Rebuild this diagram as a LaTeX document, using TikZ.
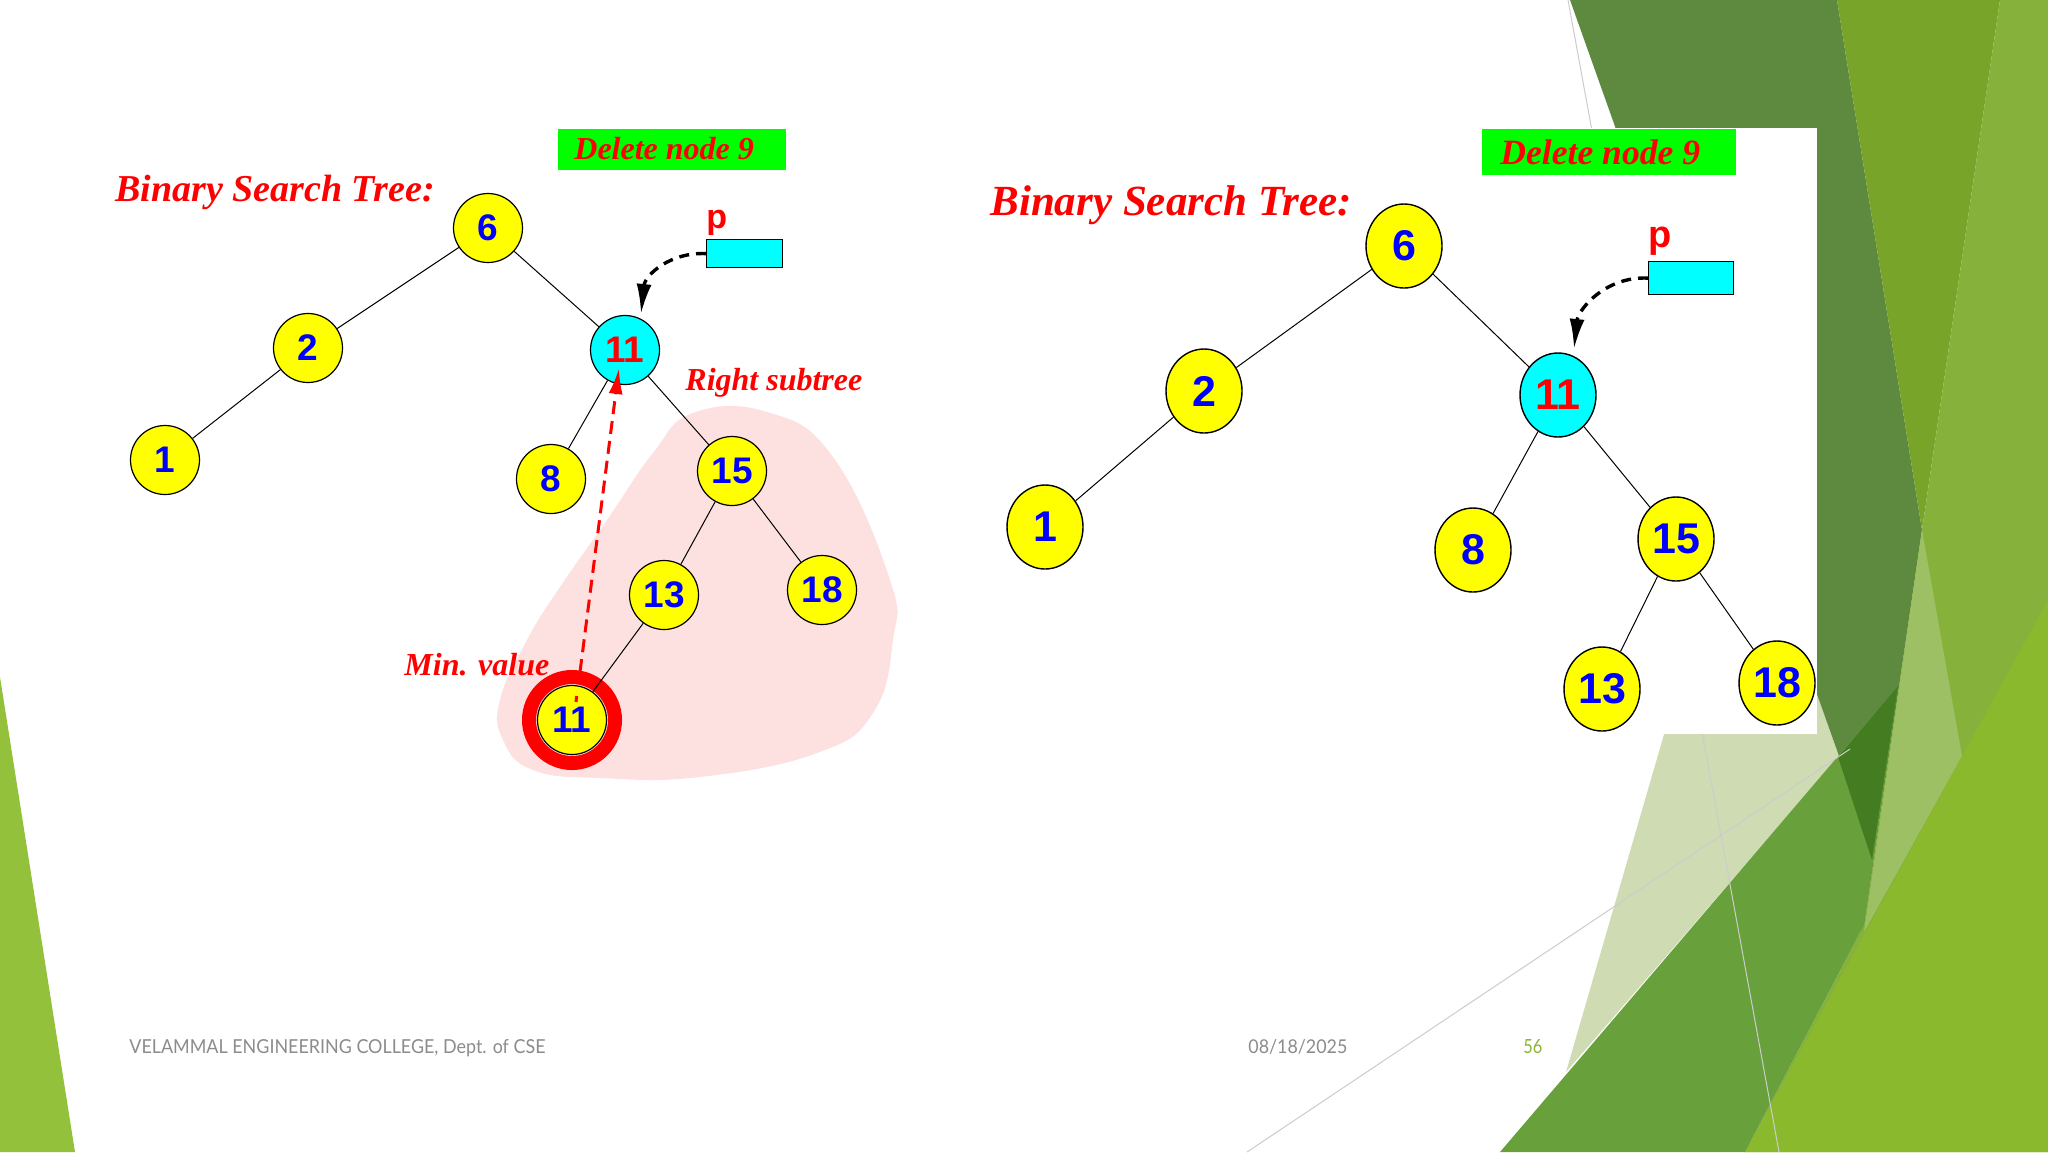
\documentclass[tikz,border=0pt]{standalone}
\usepackage{fontspec}
\setmainfont{Liberation Serif}
\newfontfamily\sansf{Liberation Sans}
\newfontfamily\footf{Lato}
\usetikzlibrary{shapes.geometric,arrows.meta}
\definecolor{dkg}{HTML}{5E8A3F}
\definecolor{mdg}{HTML}{78A42A}
\definecolor{ltg}{HTML}{86B23B}
\definecolor{strip}{HTML}{9CC063}
\definecolor{brg}{HTML}{8AB92E}
\definecolor{bandg}{HTML}{68A03C}
\definecolor{dkr}{HTML}{447C22}
\definecolor{pale}{HTML}{CFDBB2}
\definecolor{leftg}{HTML}{93C13C}
\definecolor{pinkb}{HTML}{FDE1E1}
\definecolor{footgray}{HTML}{8C8C8C}
\definecolor{numg}{HTML}{8DB33A}
\definecolor{bgreen}{HTML}{00FF00}
\definecolor{cyanb}{HTML}{00FFFF}
\definecolor{ylw}{HTML}{FFFF00}
\definecolor{blu}{HTML}{0000FF}
\definecolor{rd}{HTML}{FF0000}
\begin{document}
\begin{tikzpicture}[x=0.5pt,y=-0.5pt,
  lnode/.style={circle,draw=black,line width=0.6pt,fill=ylw,inner sep=0pt,minimum size=34.5pt,
    font=\sansf\bfseries\fontsize{18.5}{18.5}\selectfont,text=blu},
  rnode/.style={ellipse,draw=black,line width=0.7pt,fill=ylw,inner sep=0pt,minimum width=38pt,minimum height=42pt,
    font=\sansf\bfseries\fontsize{21.5}{21.5}\selectfont,text=blu},
  tedge/.style={draw=black,line width=0.5pt},
  ttl/.style={font=\bfseries\itshape\fontsize{#1}{#1}\selectfont,text=rd,anchor=base west,inner sep=0pt},
  gbox/.style={fill=bgreen,inner sep=0pt,anchor=north west},
  pbox/.style={draw=black,line width=0.6pt,fill=cyanb,inner sep=0pt,anchor=north west},
  plab/.style={font=\sansf\bfseries\fontsize{#1}{#1}\selectfont,text=rd,anchor=base west,inner sep=0pt},
  ptrarrow/.style={draw=black,line width=1.7pt,dash pattern=on 5pt off 3.5pt,-{Latex[length=15pt,width=7.5pt]}},
  redarrow/.style={draw=rd,line width=1.5pt,dash pattern=on 6.5pt off 3.5pt,-{Latex[length=13pt,width=7pt]}},
  foot/.style={font=\footf\fontsize{9}{9}\selectfont,anchor=base west,inner sep=0pt}
]
\useasboundingbox (0,0) rectangle (2048,1152);
\fill[white] (0,0) rectangle (2048,1152);
% background decoration
\fill[leftg] (0,677) -- (75,1152) -- (0,1152) -- cycle;
\fill[pale] (1703,600) -- (1784,600) -- (1839,756) -- (1566,1072) -- cycle;
\fill[dkg] (1570,0) -- (1837,0) -- (1922,530) -- (1862,940) -- (1839,756) -- cycle;
\fill[mdg] (1837,0) -- (2000,0) -- (1922,530) -- cycle;
\fill[ltg] (2000,0) -- (2048,0) -- (2048,1152) -- (1745,1152) -- (1864,925) -- (1922,530) -- cycle;
\fill[strip] (1922,530) -- (1962,756) -- (1864,932) -- cycle;
\fill[brg] (1745,1152) -- (2048,600) -- (2048,1152) -- cycle;
\fill[bandg] (1500,1152) -- (1898,686) -- (1864,925) -- (1745,1152) -- cycle;
\fill[dkr] (1838,757) -- (1898,686) -- (1872,860) -- cycle;
\draw[gray!40,line width=0.5pt] (1568,0) -- (1779,1152);
\draw[gray!40,line width=0.5pt] (1247,1152) -- (1850,749);
% white panel of the right picture
\fill[white] (980,128) rectangle (1817,734);

% ---------------- left picture ----------------
\node[gbox,minimum width=114pt,minimum height=20.5pt] (gl) at (558,129) {};
\node[ttl=16] (dl) at (574,159) {Delete node 9};
\node[ttl=19] (tl) at (115,201) {Binary Search Tree:};
\fill[pinkb] plot[smooth cycle,tension=0.75] coordinates {(693,413) (767,412) (833,457) (890,580) (893,640) (873,713) (817,753) (700,777) (600,778) (533,770) (503,740) (500,700) (527,640) (560,587) (607,520) (653,453)};
\node[ttl=16] (rs) at (685,390) {Right subtree};
\node[ttl=16] (mv) at (404,675) {Min. value};
\node[plab=17] (pl) at (706,228) {p};
\node[pbox,minimum width=38pt,minimum height=14pt] (bl) at (706,239) {};

\node[lnode] (l6) at (488,228) {6};
\node[lnode] (l2) at (308,348) {2};
\node[lnode] (l1) at (165,460) {1};
\node[lnode,fill=cyanb,text=rd] (l11) at (625,350) {11};
\node[lnode] (l8) at (551,479) {8};
\node[lnode] (l15) at (732,471) {15};
\node[lnode] (l13) at (664,595) {13};
\node[lnode] (l18) at (822,590) {18};
\node[circle,draw=rd,line width=7pt,minimum size=43pt,inner sep=0pt] (ring) at (572,720) {};
\node[lnode] (lm) at (572,720) {11};
\coordinate (mstart) at (576,702);
\draw[rd,line width=1.5pt] (mstart) -- ++(0.6,-6);
\draw[tedge] (l6) -- (l2);
\draw[tedge] (l6) -- (l11);
\draw[tedge] (l2) -- (l1);
\draw[tedge] (l11) -- (l8);
\draw[tedge] (l11) -- (l15);
\draw[tedge] (l15) -- (l13);
\draw[tedge] (l15) -- (l18);
\draw[tedge] (l13) -- (lm);
\coordinate (mtip) at (619,368);
\coordinate (rtop) at (580,672);
\draw[redarrow] (rtop) -- (mtip);
\coordinate (ltip) at (641,314);
\draw[ptrarrow] (bl.west) .. controls (670,252) and (645,275) .. (ltip);

% ---------------- right picture ----------------
\node[gbox,minimum width=127pt,minimum height=23pt] (gr) at (1482,129) {};
\node[ttl=17.8] (dr) at (1500,164) {Delete node 9};
\node[ttl=21.5] (tr) at (990,215) {Binary Search Tree:};
\node[plab=19] (pr) at (1648,247) {p};
\node[pbox,minimum width=42.5pt,minimum height=16.5pt] (br) at (1648,261) {};

\node[rnode] (r6) at (1404,246) {6};
\node[rnode] (r2) at (1204,391) {2};
\node[rnode] (r1) at (1045,527) {1};
\node[rnode,fill=cyanb,text=rd] (r11) at (1558,395) {11};
\node[rnode] (r8) at (1473,550) {8};
\node[rnode] (r15) at (1676,539) {15};
\node[rnode] (r13) at (1602,689) {13};
\node[rnode] (r18) at (1777,683) {18};
\draw[tedge] (r6) -- (r2);
\draw[tedge] (r6) -- (r11);
\draw[tedge] (r2) -- (r1);
\draw[tedge] (r11) -- (r8);
\draw[tedge] (r11) -- (r15);
\draw[tedge] (r15) -- (r13);
\draw[tedge] (r15) -- (r18);
\coordinate (rtip) at (1574,349);
\draw[ptrarrow] (br.west) .. controls (1605,276) and (1578,310) .. (rtip);

% ---------------- footer ----------------
\node[foot,text=footgray] (f1) at (129,1053) {\resizebox{208pt}{7pt}{VELAMMAL ENGINEERING COLLEGE, Dept. of CSE}};
\node[foot,text=footgray] (f2) at (1248,1053) {\resizebox{49.5pt}{7pt}{08/18/2025}};
\node[foot,text=numg] (f3) at (1523,1053) {\resizebox{9.5pt}{7pt}{56}};
\end{tikzpicture}
\end{document}
